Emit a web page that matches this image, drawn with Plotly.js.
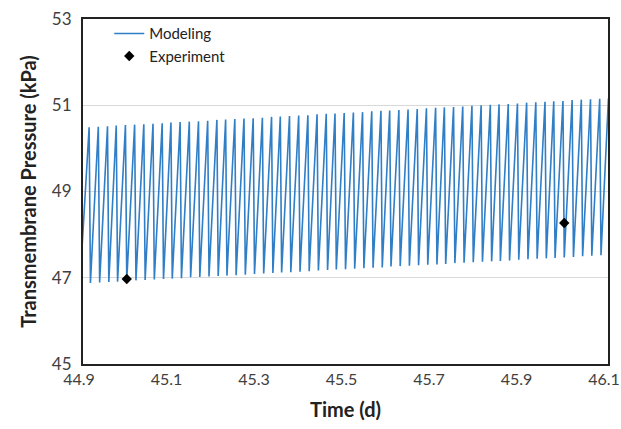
<!DOCTYPE html>
<html>
<head>
<meta charset="utf-8">
<script src="https://cdn.plot.ly/plotly-3.0.1.min.js"></script>
<style>html,body{margin:0;padding:0;background:#fff;}#chart{width:621px;height:429px;}</style>
</head>
<body>
<div id="chart"></div>
<script>
// Modeling sawtooth: peaks (time, kPa) and the troughs that follow each peak
var startTime = 44.893;
var startValue = 46.87;
var peakTimes = [44.914,44.935,44.956,44.976,44.997,45.018,45.039,45.060,45.081,45.101,
  45.122,45.143,45.164,45.185,45.206,45.226,45.247,45.268,45.289,45.310,
  45.331,45.351,45.372,45.393,45.414,45.435,45.456,45.476,45.497,45.518,
  45.539,45.560,45.581,45.601,45.622,45.643,45.664,45.685,45.706,45.726,
  45.747,45.768,45.789,45.810,45.831,45.851,45.872,45.893,45.914,45.935,
  45.956,45.976,45.997,46.018,46.039,46.060,46.081,46.101];
var peakValues = [50.49,50.50,50.51,50.53,50.54,50.55,50.56,50.57,50.58,50.60,
  50.61,50.62,50.63,50.64,50.66,50.67,50.68,50.69,50.70,50.71,
  50.73,50.74,50.75,50.76,50.77,50.79,50.80,50.81,50.82,50.83,
  50.84,50.86,50.87,50.88,50.89,50.90,50.91,50.93,50.94,50.95,
  50.96,50.97,50.99,51.00,51.01,51.02,51.03,51.04,51.06,51.07,
  51.08,51.09,51.10,51.12,51.13,51.14,51.15,51.16];
var troughTimes = [44.917,44.938,44.959,44.979,45.000,45.021,45.042,45.063,45.084,45.104,
  45.125,45.146,45.167,45.188,45.209,45.229,45.250,45.271,45.292,45.313,
  45.334,45.354,45.375,45.396,45.417,45.438,45.459,45.479,45.500,45.521,
  45.542,45.563,45.584,45.604,45.625,45.646,45.667,45.688,45.709,45.729,
  45.750,45.771,45.792,45.813,45.834,45.854,45.875,45.896,45.917,45.938,
  45.959,45.979,46.000,46.021,46.042,46.063,46.084];
var troughValues = [46.88,46.89,46.90,46.91,46.93,46.94,46.95,46.96,46.97,46.98,
  46.99,47.01,47.02,47.03,47.04,47.05,47.06,47.07,47.09,47.10,
  47.11,47.12,47.13,47.14,47.15,47.17,47.18,47.19,47.20,47.21,
  47.22,47.23,47.24,47.26,47.27,47.28,47.29,47.30,47.31,47.32,
  47.34,47.35,47.36,47.37,47.38,47.39,47.40,47.42,47.43,47.44,
  47.45,47.46,47.47,47.48,47.50,47.51,47.52];

// Experiment points
var expTimes = [45.0, 46.0];
var expValues = [46.97, 48.27];

// Axis ticks
var xTicks = [44.9, 45.1, 45.3, 45.5, 45.7, 45.9, 46.1];
var xTickLabels = ["44.9", "45.1", "45.3", "45.5", "45.7", "45.9", "46.1"];
var yTicks = [45, 47, 49, 51, 53];

var modelX = [startTime], modelY = [startValue];
for (var i = 0; i < peakTimes.length; i++) {
  modelX.push(peakTimes[i]); modelY.push(peakValues[i]);
  if (i < troughTimes.length) { modelX.push(troughTimes[i]); modelY.push(troughValues[i]); }
}

var font = "Lato, 'Open Sans', sans-serif";
var traces = [
  {x: modelX, y: modelY, mode: 'lines', name: 'Modeling', type: 'scatter',
   line: {color: '#2f7ec6', width: 1.6}},
  {x: expTimes, y: expValues, mode: 'markers', name: 'Experiment', type: 'scatter',
   marker: {symbol: 'diamond', color: '#000', size: 8}}
];
var layout = {
  width: 621, height: 429,
  margin: {l: 83, r: 13, t: 19, b: 65},
  paper_bgcolor: '#fff', plot_bgcolor: '#fff',
  font: {family: font, color: '#404040', size: 17},
  showlegend: true,
  legend: {x: 0.05, y: 1.005, xanchor: 'left', yanchor: 'top', bgcolor: 'rgba(0,0,0,0)',
           font: {family: font, size: 15, color: '#222'}, tracegroupgap: 0, itemwidth: 30},
  xaxis: {range: [44.9, 46.1], tickvals: xTicks, ticktext: xTickLabels, showgrid: false,
          zeroline: false, showline: true, mirror: true, linecolor: '#222', linewidth: 2,
          ticks: '', ticklabeloverflow: 'allow', ticklabelshift: -4,
          tickfont: {size: 16, color: '#404040'},
          title: {text: '<b>Time (d)</b>', font: {size: 20, color: '#222'}, standoff: 16}},
  yaxis: {range: [45, 53], tickvals: yTicks, showgrid: true, gridcolor: '#d9d9d9', gridwidth: 1,
          zeroline: false, showline: true, mirror: true, linecolor: '#222', linewidth: 2,
          ticks: '', ticklabelstandoff: 6, tickfont: {size: 17, color: '#404040'},
          title: {text: '<b>Transmembrane Pressure (kPa)</b>', font: {size: 20, color: '#222'}, standoff: 10}}
};
Plotly.newPlot('chart', traces, layout, {staticPlot: true, displayModeBar: false});
</script>
</body>
</html>
